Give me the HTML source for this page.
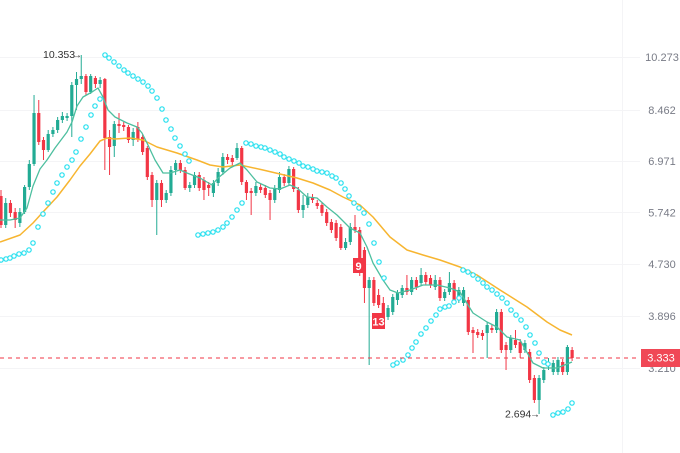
<!DOCTYPE html>
<html><head><meta charset="utf-8"><style>
html,body{margin:0;padding:0;background:#fff;}
svg{display:block;}
text{font-family:"Liberation Sans",sans-serif;}
</style></head><body>
<svg id="c" width="680" height="453" viewBox="0 0 680 453" xmlns="http://www.w3.org/2000/svg">
<rect width="680" height="453" fill="#fff"/>
<g stroke="#f4f4f6" stroke-width="1">
<line x1="0" y1="57.5" x2="640" y2="57.5"/>
<line x1="0" y1="110.5" x2="640" y2="110.5"/>
<line x1="0" y1="161.5" x2="640" y2="161.5"/>
<line x1="0" y1="212.5" x2="640" y2="212.5"/>
<line x1="0" y1="264.5" x2="640" y2="264.5"/>
<line x1="0" y1="316.5" x2="640" y2="316.5"/>
<line x1="0" y1="368.5" x2="640" y2="368.5"/>
<line x1="622.5" y1="0" x2="622.5" y2="453"/>
</g>
<g id="candles"></g>
<polyline id="orange" fill="none" stroke="#f7b530" stroke-width="1.5" stroke-linejoin="round"/>
<polyline id="teal" fill="none" stroke="#4dbf9f" stroke-width="1.3" stroke-linejoin="round"/>
<g id="sar" fill="#fff" stroke="#26e0ef" stroke-width="1.2"></g>
<line x1="0" y1="358" x2="640" y2="358" stroke="#f23645" stroke-width="1" stroke-dasharray="4,4"/>
<rect x="353" y="258" width="11" height="15" fill="#f23645"/>
<text x="358.5" y="270" font-size="11" fill="#fff" text-anchor="middle" font-weight="bold">9</text>
<rect x="372" y="313" width="13" height="16" fill="#f23645"/>
<text x="378.5" y="325.5" font-size="11" fill="#fff" text-anchor="middle" font-weight="bold">13</text>
<text x="43" y="58" font-size="10.5" fill="#333">10.353</text>
<text x="72" y="58" font-size="10" fill="#333">→</text>
<text x="505" y="417.5" font-size="10.5" fill="#333">2.694</text>
<text x="530" y="417.5" font-size="10" fill="#333">→</text>
<g font-size="11" fill="#787b86" text-anchor="middle">
<text x="662" y="61">10.273</text>
<text x="662" y="114">8.462</text>
<text x="662" y="165">6.971</text>
<text x="662" y="216.5">5.742</text>
<text x="662" y="268">4.730</text>
<text x="662" y="320">3.896</text>
<text x="662" y="372">3.210</text>
</g>
<rect x="641" y="349" width="39" height="18" fill="#f04856"/>
<text x="661" y="361.5" font-size="11" fill="#fff" text-anchor="middle">3.333</text>
</svg>
<script>
var G="#22ab94",R="#f23645";
var d=[
["r",196,225,190,228],["g",203,225,198,228],["r",203,213,200,217],["r",212,220,208,228],["g",212,223,208,227],
["g",187,212,185,214],["g",164,187,160,190],["g",113,164,95,166],["r",113,142,100,145],["r",140,150,137,160],
["g",134,150,130,152],["g",130,134,127,137],["g",120,130,117,133],["g",116,120,112,123],["g",116,118,113,121],
["g",85,116,82,137],["g",79,85,72,110],["g",76,79,55,84],["r",76,92,74,95],["g",76,92,74,94],
["r",78,84,76,88],["g",80,84,77,88],["r",79,138,78,170],["r",137,147,130,175],["g",124,146,121,157],
["r",124,126,113,133],["r",125,127,122,131],["r",127,140,125,143],["g",132,140,128,146],["r",127,139,122,142],
["r",137,152,134,155],["r",148,177,146,180],["r",175,200,172,207],["g",183,200,180,235],["r",183,200,180,207],
["g",193,200,190,203],["g",170,193,166,196],["g",163,170,160,175],["r",163,170,160,173],["r",170,188,167,190],
["g",185,188,182,192],["g",175,185,172,188],["r",175,188,172,191],["r",180,190,177,200],["r",185,188,182,196],
["g",183,193,180,197],["g",172,183,168,186],["g",157,172,153,175],["r",157,160,154,164],["r",158,162,155,166],
["g",148,158,143,160],["r",148,182,146,185],["r",182,193,180,200],["r",191,193,188,215],["g",186,193,182,196],
["r",187,190,184,193],["r",188,195,185,198],["r",193,200,190,220],["g",188,200,185,203],["g",177,190,172,193],
["r",177,183,174,186],["g",169,183,166,186],["r",169,189,167,192],["r",190,210,187,213],["g",205,210,195,218],
["g",197,205,193,208],["r",197,200,194,203],["r",203,206,200,209],["r",205,213,202,216],["r",212,223,209,226],
["r",222,230,219,233],["r",223,238,220,241],["r",227,248,224,250],["g",242,248,238,250],["g",227,242,223,245],
["r",227,230,215,233],["r",230,273,227,276],["r",250,288,247,303],["g",280,288,277,365],["r",280,303,277,306],
["r",295,305,289,308],["r",303,313,297,316],["g",308,317,305,320],["g",297,312,294,315],["g",293,300,290,305],
["g",288,295,285,298],["r",288,292,275,295],["g",280,292,277,295],["r",280,287,277,290],["g",275,283,268,286],
["r",275,282,272,285],["r",278,285,275,288],["g",280,287,275,290],["r",280,298,277,301],["g",292,298,289,301],
["g",283,292,272,295],["r",283,300,280,303],["g",290,300,287,303],["g",290,303,287,306],["r",300,332,297,335],
["r",330,333,327,353],["r",332,335,329,338],["r",333,336,330,340],["g",325,333,322,358],["r",328,330,325,333],
["g",312,330,309,333],["r",312,350,309,353],["r",345,350,342,370],["g",338,350,335,353],["r",340,345,330,348],
["r",342,353,339,358],["g",343,350,340,353],["r",352,380,349,383],["r",378,400,375,403],["g",378,400,375,414],
["g",370,380,367,383],["g",362,366,358,370],["g",363,372,360,375],["g",360,372,357,375],["r",362,372,359,375],
["g",347,372,345,375],["r",350,358,347,361]
];
var ns="http://www.w3.org/2000/svg",cg=document.getElementById("candles"),h="";
for(var i=0;i<d.length;i++){var c=d[i],x=1+i*4.72,col=c[0]=="g"?G:R;
h+='<line x1="'+x.toFixed(2)+'" y1="'+c[3]+'" x2="'+x.toFixed(2)+'" y2="'+c[4]+'" stroke="'+col+'" stroke-width="1"/>';
var bh=Math.max(1,c[2]-c[1]);
h+='<rect x="'+(x-1.6).toFixed(2)+'" y="'+c[1]+'" width="3.2" height="'+bh+'" fill="'+col+'"/>';}
cg.innerHTML=h;
document.getElementById("orange").setAttribute("points","0,242 20,235 33,223 43,212 57,197 70,180 80,166 90,154 100,141 107,138 115,139 130,138 143,140 157,147 177,153 197,160 210,165 223,167 240,165 263,170 280,174 297,178 313,183 330,190 343,197 360,205 373,217 390,237 407,250 423,255 440,260 460,267 477,275 500,290 527,307 547,322 560,330 572,335");
document.getElementById("teal").setAttribute("points","0,220 10,220 20,218 27,208 33,186 40,169 47,160 55,148 67,132 72,122 77,106 83,97 92,92 98,88 103,97 108,110 115,117 127,123 137,127 142,133 147,143 155,160 163,173 170,173 180,170 187,173 200,178 212,185 218,178 230,168 240,163 247,170 257,182 270,188 280,189 290,185 297,188 307,197 317,198 327,207 337,215 347,225 350,228 360,233 367,247 373,263 383,280 390,290 398,293 410,290 423,285 437,285 450,288 460,292 463,297 473,313 487,322 497,327 507,337 520,340 533,363 543,368 557,368 572,362");
var s=[[1,260],[6,259],[10,258],[14,256],[19,254],[24,253],[29,250],[33,243],[38,227],[43,214],[48,203],[53,192],[57,183],[62,175],[67,167],[72,160],[76,152],[81,139],[86,127],[91,115],[95,106],[100,99],
[105,55],[109,58],[114,62],[119,66],[124,70],[128,73],[133,76],[138,79],[143,82],[148,86],[152,91],[157,98],[162,109],[166,120],[171,129],[175,138],[180,146],[185,154],[189,161],
[198,235],[203,234],[208,233],[213,232],[218,230],[223,227],[227,223],[232,217],[237,210],[242,203],
[246,143],[251,144],[256,146],[261,147],[265,148],[270,150],[275,152],[280,154],[284,157],[289,159],[294,161],[299,163],[303,166],[308,167],[313,169],[317,171],[322,172],[327,173],[332,176],[336,178],[341,183],[345,189],[349,196],[354,203],[359,208],[364,213],[369,224],[374,243],[379,262],[384,278],
[393,365],[397,363],[403,360],[408,355],[412,348],[416,342],[421,334],[426,328],[431,321],[436,315],[440,309],[445,307],[449,306],[454,302],[459,298],
[463,270],[468,272],[473,275],[478,279],[483,283],[487,287],[492,290],[497,294],[502,298],[507,303],[511,310],[516,315],[521,320],[526,327],[530,335],[535,343],[539,353],[544,362],[548,364],
[553,415],[558,413],[563,412],[568,409],[572,403]];
var sh="";for(var j=0;j<s.length;j++){sh+='<circle cx="'+s[j][0]+'" cy="'+s[j][1]+'" r="2.2"/>';}
document.getElementById("sar").innerHTML=sh;
</script>
</body></html>
